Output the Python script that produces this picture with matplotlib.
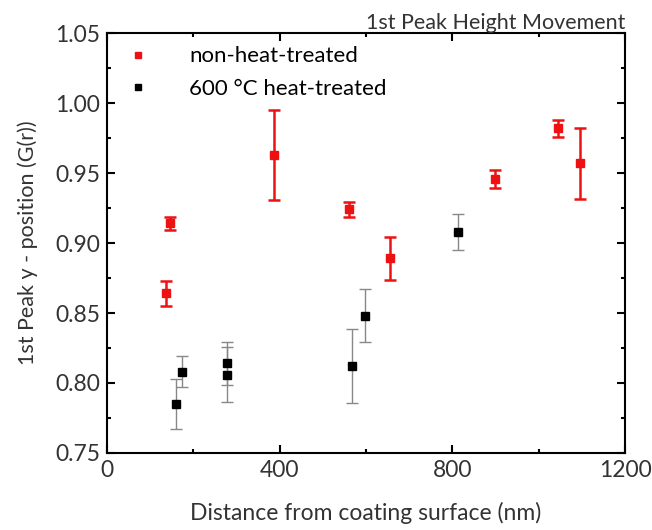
import matplotlib.pyplot as plt
from matplotlib.ticker import MultipleLocator
from matplotlib.lines import Line2D

plt.rcParams['font.family'] = ['Lato', 'DejaVu Sans']

# non-heat-treated (red)
red_x = [136, 146, 388, 561, 656, 900, 1045, 1095]
red_y = [0.864, 0.914, 0.963, 0.924, 0.889, 0.946, 0.982, 0.957]
red_err = [0.009, 0.0045, 0.032, 0.0055, 0.0155, 0.0065, 0.006, 0.0255]

# 600 C heat-treated (black)
blk_x = [159, 175, 279, 279, 568, 598, 814]
blk_y = [0.785, 0.808, 0.814, 0.806, 0.812, 0.848, 0.908]
blk_err = [0.018, 0.011, 0.0155, 0.0195, 0.0265, 0.019, 0.013]

labels = ['non-heat-treated', '600 °C heat-treated']

fig = plt.figure(figsize=(6.52, 5.30), dpi=100)
ax = fig.add_axes([0.164, 0.1453, 0.7946, 0.7924])

ax.errorbar(red_x, red_y, yerr=red_err, fmt='s', color='#ee1111', ms=5.5,
            elinewidth=1.8, capsize=4, capthick=1.8)
ax.errorbar(blk_x, blk_y, yerr=blk_err, fmt='s', mfc='black', mec='black', ms=6,
            ecolor='#888888', elinewidth=1, capsize=4, capthick=1)

ax.set_xlim(0, 1200)
ax.set_ylim(0.75, 1.05)
ax.xaxis.set_major_locator(MultipleLocator(400))
ax.xaxis.set_minor_locator(MultipleLocator(200))
ax.yaxis.set_major_locator(MultipleLocator(0.05))
ax.yaxis.set_minor_locator(MultipleLocator(0.025))
ax.yaxis.set_major_formatter(plt.FormatStrFormatter('%.2f'))
ax.tick_params(which='both', direction='in', top=True, right=True, width=1.5)
ax.tick_params(which='major', length=6, labelsize=16.5, colors='black', labelcolor='#333333', pad=5)
ax.tick_params(which='minor', length=3)
for s in ax.spines.values():
    s.set_linewidth(1.5)

ax.set_xlabel('Distance from coating surface (nm)', fontsize=16.5, color='#333333', labelpad=15)
ax.set_ylabel('1st Peak y - position (G(r))', fontsize=15.5, color='#333333', labelpad=12)
ax.set_title('1st Peak Height Movement', fontsize=15.5, loc='right', color='#333333', pad=3)

handles = [Line2D([], [], ls='none', marker='s', ms=4.5, color='#ee1111'),
           Line2D([], [], ls='none', marker='s', ms=4.5, color='black')]
ax.legend(handles, labels, loc='upper left', frameon=False, fontsize=16,
          handletextpad=1.5, borderaxespad=0.2, labelspacing=0.55, handlelength=1.6)

fig.savefig('out.png', dpi=100)
